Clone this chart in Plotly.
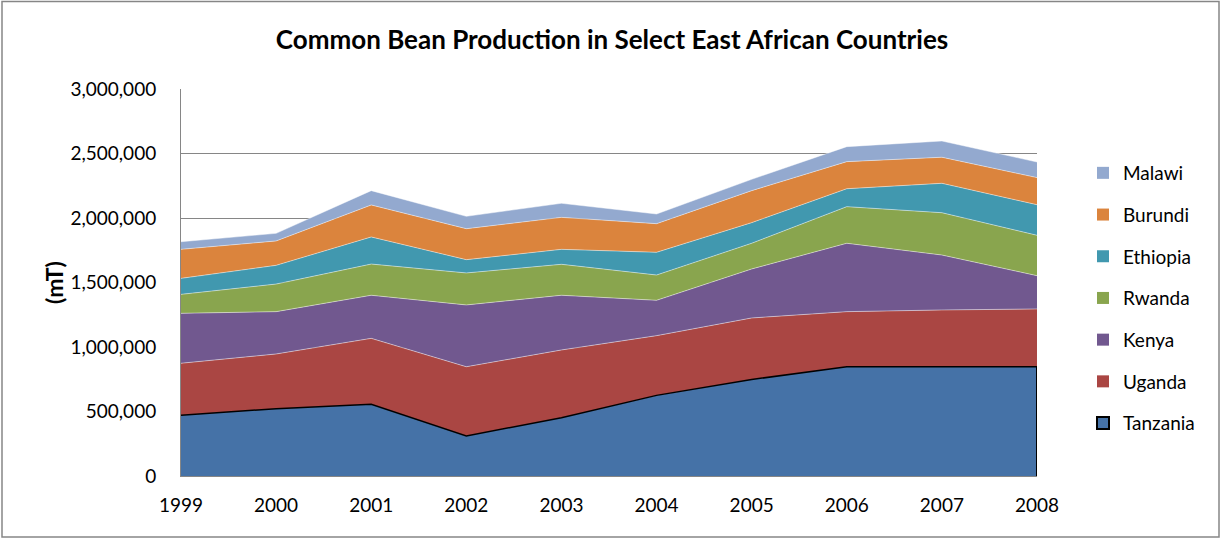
import plotly.graph_objects as go

years = [1999, 2000, 2001, 2002, 2003, 2004, 2005, 2006, 2007, 2008]
tanzania = [470000, 522000, 556000, 310000, 452000, 625000, 748000, 847000, 847000, 847000]
uganda = [404000, 424000, 511000, 537000, 525000, 463000, 477000, 427000, 440000, 448000]
kenya = [387000, 328000, 334000, 479000, 424000, 274000, 380000, 530000, 426000, 258000]
rwanda = [147000, 214000, 242000, 248000, 240000, 196000, 199000, 284000, 328000, 313000]
ethiopia = [124000, 145000, 210000, 103000, 116000, 176000, 160000, 139000, 228000, 237000]
burundi = [225000, 189000, 248000, 240000, 248000, 222000, 248000, 210000, 202000, 210000]
malawi = [59000, 59000, 111000, 96000, 109000, 75000, 88000, 116000, 126000, 121000]

series = [
    ("Tanzania", tanzania, "#4572A7"),
    ("Uganda", uganda, "#AA4643"),
    ("Kenya", kenya, "#71588F"),
    ("Rwanda", rwanda, "#89A54E"),
    ("Ethiopia", ethiopia, "#4198AF"),
    ("Burundi", burundi, "#DB843D"),
    ("Malawi", malawi, "#93A9CF"),
]

FONT = "Lato"
fig = go.Figure()
for name, vals, col in series:
    if name == "Tanzania":
        line = dict(color="black", width=1.5)
    else:
        line = dict(color="rgba(255,255,255,0.45)", width=1)
    fig.add_trace(go.Scatter(
        x=years, y=vals, name=name, mode="lines", stackgroup="one",
        fillcolor=col, line=line, showlegend=False,
    ))

# right edge outline of Tanzania area
fig.add_trace(go.Scatter(
    x=[years[-1], years[-1]], y=[0, tanzania[-1]], mode="lines",
    line=dict(color="black", width=2), showlegend=False, hoverinfo="skip",
))

# legend-only entries (square swatches), top-to-bottom Malawi..Tanzania
n = len(series)
for i, (name, vals, col) in enumerate(series):
    border = dict(color="black", width=2) if name == "Tanzania" else dict(width=0)
    fig.add_trace(go.Scatter(
        x=[None], y=[None], mode="markers", name=name,
        marker=dict(symbol="square", size=11, color=col, line=border),
        legendgroup=name, legendrank=n - i, showlegend=True,
    ))

fig.update_layout(
    width=1222, height=539,
    margin=dict(l=181, r=185, t=89, b=63),
    paper_bgcolor="white", plot_bgcolor="white",
    font=dict(family=FONT, color="black"),
    title=dict(text="<b>Common Bean Production in Select East African Countries</b>",
               x=(612 - 181) / 856, xref="paper", xanchor="center",
               y=1 - 40 / 539, yanchor="middle",
               font=dict(size=26, family=FONT, color="black")),
    showlegend=True,
    legend=dict(x=(1083 - 181) / 856, xanchor="left", y=(476 - 154) / 387, yanchor="top",
                traceorder="grouped", tracegroupgap=14, itemsizing="constant",
                itemwidth=30,
                font=dict(size=19, family=FONT, color="black"),
                bgcolor="rgba(0,0,0,0)"),
    shapes=[dict(type="rect", xref="paper", yref="paper",
                 x0=(2 - 181) / 856, x1=(1219 - 181) / 856,
                 y0=(476 - 537) / 387, y1=(476 - 1.5) / 387,
                 line=dict(color="#868686", width=1.5), layer="below")],
)

fig.update_xaxes(
    range=[1999, 2008], tickmode="array", tickvals=years,
    ticktext=[str(y) for y in years], showgrid=False,
    showline=True, linecolor="#868686", linewidth=1,
    tickfont=dict(size=19, family=FONT), ticks="", ticklabelstandoff=12,
)
fig.update_yaxes(
    range=[0, 3000000], tickvals=[0, 500000, 1000000, 1500000, 2000000, 2500000, 3000000],
    tickformat=",d", showgrid=True, gridcolor="#868686", gridwidth=1,
    showline=True, linecolor="#868686", linewidth=1, zeroline=False,
    tickfont=dict(size=19, family=FONT), ticks="", ticklabelstandoff=20,
    title=dict(text="<b>(mT)</b>", font=dict(size=23, family=FONT), standoff=0),
)

fig.write_html("out.html", config={"displayModeBar": False},
               post_script="document.body.style.margin='0px';document.body.style.padding='0px';")
